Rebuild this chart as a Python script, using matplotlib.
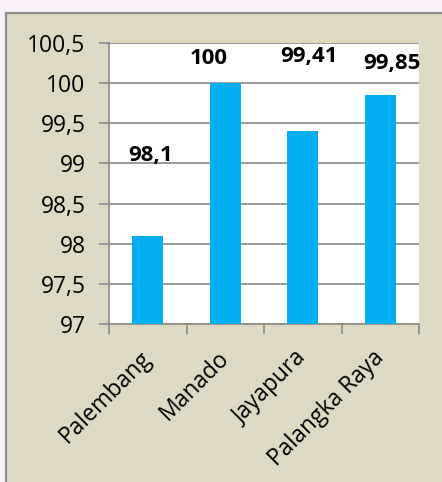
import matplotlib
matplotlib.use("Agg")
import matplotlib.pyplot as plt
from matplotlib.patches import Rectangle
from matplotlib.transforms import ScaledTranslation
import numpy as np

categories = ["Palembang", "Manado", "Jayapura", "Palangka Raya"]
values = [98.1, 100, 99.41, 99.85]
value_labels = ["98,1", "100", "99,41", "99,85"]
yticks = [97, 97.5, 98, 98.5, 99, 99.5, 100, 100.5]
ytick_labels = ["97", "97,5", "98", "98,5", "99", "99,5", "100", "100,5"]
# label positions (data coords), manually placed in the original
label_x_offset = [0.03, -0.22, 0.08, 0.15]
label_y = [99.10, 100.31, 100.33, 100.24]

plt.rcParams['font.family'] = ['Open Sans', 'DejaVu Sans']

W, H = 442, 482
fig = plt.figure(figsize=(W / 100, H / 100), dpi=100)
fig.patch.set_facecolor("#fcf1f8")

frame = Rectangle((6 / W, -0.05), 1.05, (H - 13) / H + 0.05, transform=fig.transFigure,
                  facecolor="#ddd9c3", edgecolor="#8c8c8c", linewidth=1.6, zorder=-10)
fig.patches.append(frame)

ax = fig.add_axes([109 / W, (H - 324) / H, 310 / W, (324 - 43) / H])
ax.set_zorder(1)
ax.set_facecolor("white")
x = np.arange(len(categories))
ax.bar(x, values, width=0.4, color="#00b0f0", zorder=3)
ax.set_xlim(-0.5, len(categories) - 0.5)
ax.set_ylim(97, 100.5)

ax.set_yticks(yticks)
ax.set_yticklabels(ytick_labels, fontsize=16.5)
ax.yaxis.grid(True, color="#8a8a8a", linewidth=1.2, zorder=1)
ax.set_axisbelow(True)

ax.set_xticks(x)
ax.set_xticklabels(categories, rotation=45, ha="right", rotation_mode="anchor", fontsize=16.5)
ax.set_xticks(np.arange(len(categories) + 1) - 0.5, minor=True)
ax.tick_params(axis="x", which="major", length=0, pad=16)
ax.tick_params(axis="x", which="minor", length=7, color="#8a8a8a", width=1.2)
ax.tick_params(axis="y", length=7, color="#8a8a8a", width=1.2, pad=10)
shift = ScaledTranslation(-8 / 100, 0, fig.dpi_scale_trans)
for lbl in ax.get_xticklabels():
    lbl.set_transform(lbl.get_transform() + shift)

for s in ["top", "right"]:
    ax.spines[s].set_visible(False)
for s in ["left", "bottom"]:
    ax.spines[s].set_color("#8a8a8a")
    ax.spines[s].set_linewidth(1.2)

for i, (lab, ly) in enumerate(zip(value_labels, label_y)):
    ax.text(x[i] + label_x_offset[i], ly, lab, ha="center", va="center",
            fontsize=16, fontweight="bold", clip_on=False, zorder=4)

fig.savefig("out.png", dpi=100, facecolor=fig.get_facecolor())
